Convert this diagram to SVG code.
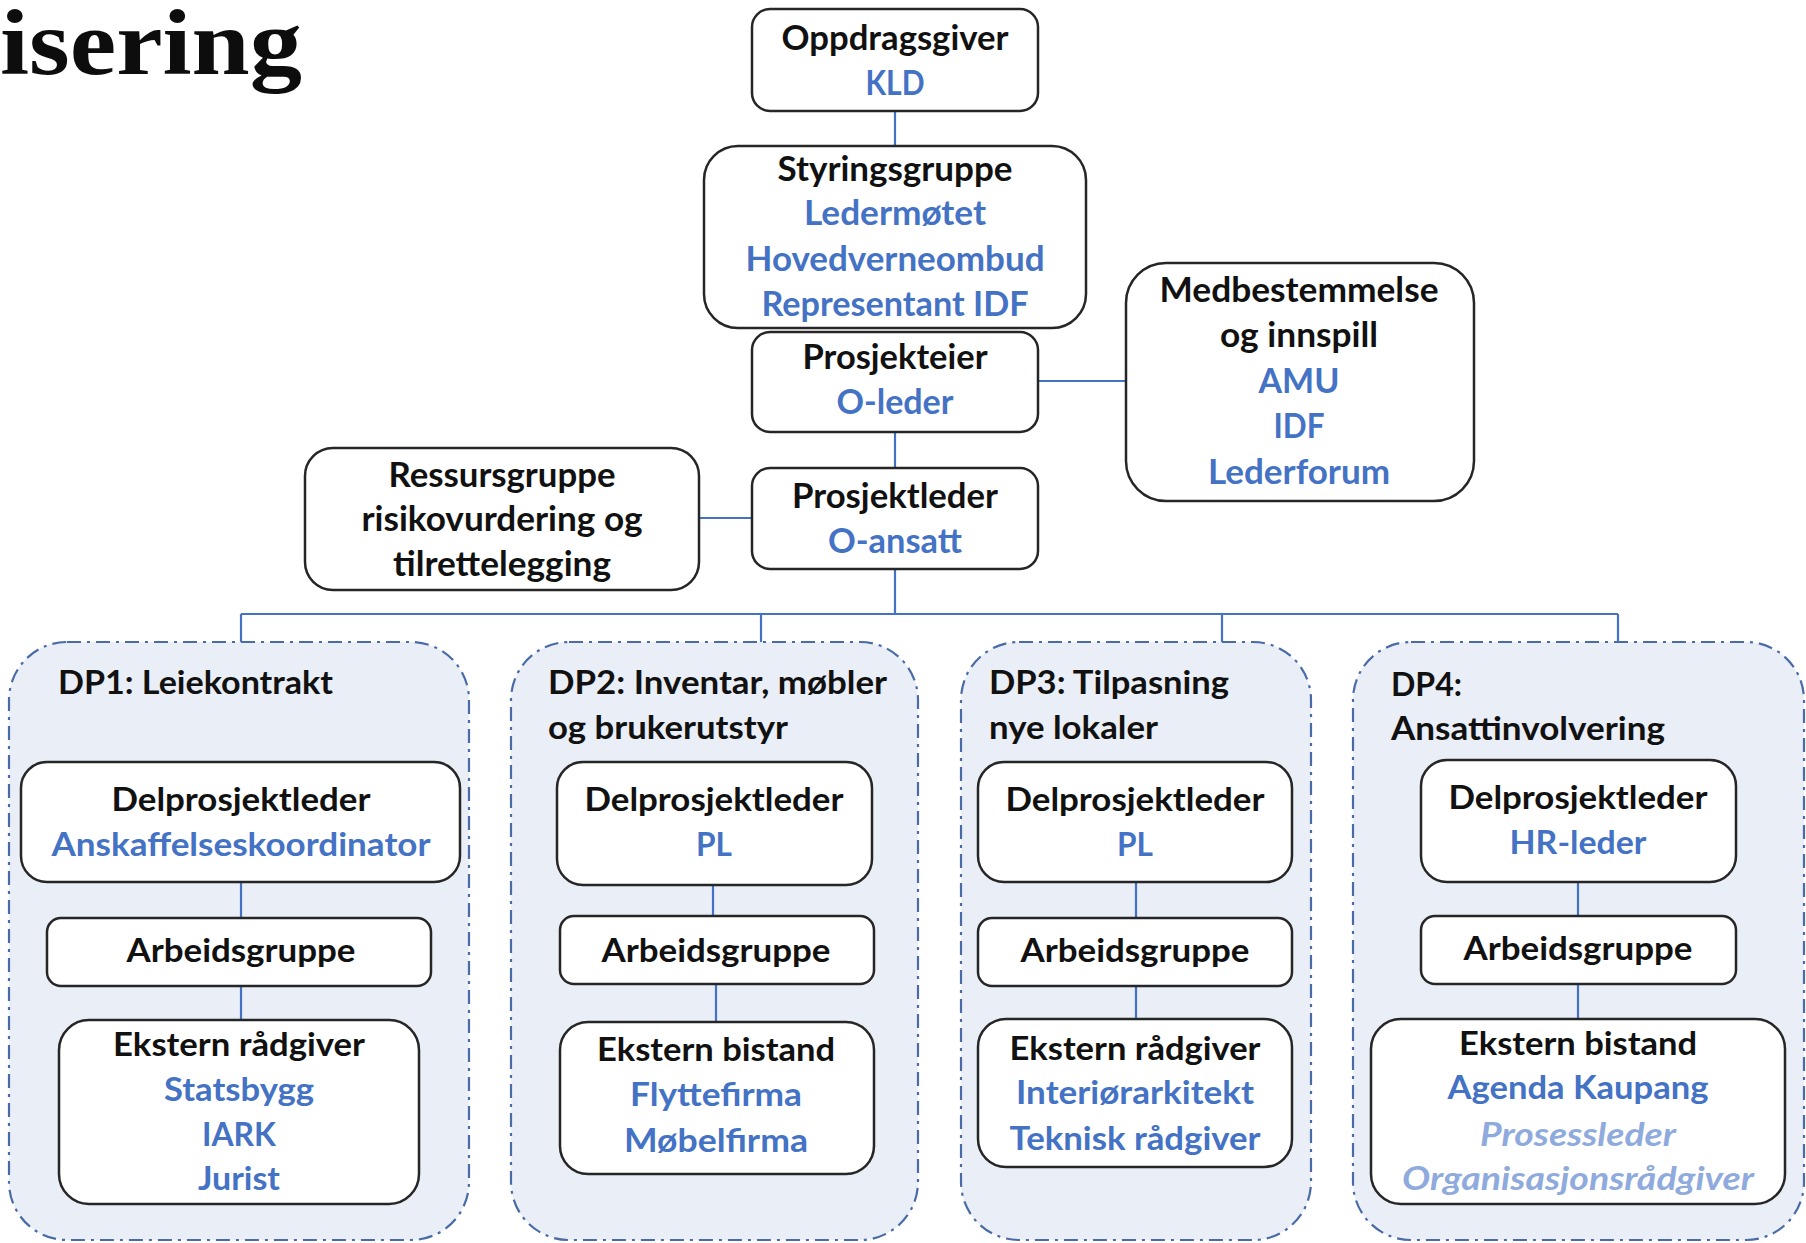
<svg xmlns="http://www.w3.org/2000/svg" width="1806" height="1243" viewBox="0 0 1806 1243">
<style>
.bg{fill:#ffffff}
.box{fill:#ffffff;stroke:#262626;stroke-width:2.5}
.dp{fill:#E9EEF7;stroke:#4A6BA6;stroke-width:2.2;stroke-dasharray:14 6 3 6}
.con{fill:none;stroke:#4472C4;stroke-width:2.2}
text{font-family:Lato,"Open Sans","Liberation Sans",sans-serif;font-weight:700;font-size:34px;text-anchor:middle}
.k{fill:#111111}
.b{fill:#4472C4}
.l{fill:#8FAADC;font-style:italic}
.s{font-size:32px}
.t{text-anchor:start}
.title{font-family:"Liberation Serif","Times New Roman",serif;font-size:94px;font-weight:700;fill:#0d0d0d;text-anchor:start}
</style>
<rect class="bg" x="0" y="0" width="1806" height="1243"/>
<text class="title" x="0" y="74" textLength="302" lengthAdjust="spacingAndGlyphs">isering</text>

<g id="dp-containers">
<rect id="dp1" class="dp" x="9" y="642" width="460" height="598" rx="58"/>
<rect id="dp2" class="dp" x="511" y="642" width="407" height="598" rx="58"/>
<rect id="dp3" class="dp" x="961" y="642" width="350" height="598" rx="58"/>
<rect id="dp4" class="dp" x="1353" y="642" width="451" height="598" rx="58"/>
</g>

<g id="connectors">
<path class="con" d="M895 111V146"/>
<path class="con" d="M895 432V468"/>
<path class="con" d="M1038 381H1126"/>
<path class="con" d="M699 518H752"/>
<path class="con" d="M895 569V614"/>
<path class="con" d="M241 614H1618"/>
<path class="con" d="M241 614V642M761 614V642M1222 614V642M1618 614V642"/>
<path class="con" d="M241 882V918M241 986V1020"/>
<path class="con" d="M713 885V916M716 984V1022"/>
<path class="con" d="M1136 882V918M1136 986V1019"/>
<path class="con" d="M1578 882V916M1578 984V1019"/>
</g>

<g id="oppdragsgiver">
<rect class="box" x="752" y="9" width="286" height="102" rx="18"/>
<text class="k" x="895" y="50" textLength="227" lengthAdjust="spacingAndGlyphs">Oppdragsgiver</text>
<text class="b" x="895" y="95" textLength="59" lengthAdjust="spacingAndGlyphs">KLD</text>
</g>

<g id="styringsgruppe">
<rect class="box" x="704" y="146" width="382" height="182" rx="34"/>
<text class="k" x="895" y="181" textLength="235" lengthAdjust="spacingAndGlyphs">Styringsgruppe</text>
<text class="b" x="895" y="225" textLength="182" lengthAdjust="spacingAndGlyphs">Ledermøtet</text>
<text class="b" x="895" y="271" textLength="299" lengthAdjust="spacingAndGlyphs">Hovedverneombud</text>
<text class="b" x="895" y="316" textLength="267" lengthAdjust="spacingAndGlyphs">Representant IDF</text>
</g>

<g id="prosjekteier">
<rect class="box" x="752" y="332" width="286" height="100" rx="18"/>
<text class="k" x="895" y="369" textLength="185" lengthAdjust="spacingAndGlyphs">Prosjekteier</text>
<text class="b" x="895" y="414" textLength="117" lengthAdjust="spacingAndGlyphs">O-leder</text>
</g>

<g id="prosjektleder">
<rect class="box" x="752" y="468" width="286" height="101" rx="18"/>
<text class="k" x="895" y="508" textLength="206" lengthAdjust="spacingAndGlyphs">Prosjektleder</text>
<text class="b" x="895" y="553" textLength="134" lengthAdjust="spacingAndGlyphs">O-ansatt</text>
</g>

<g id="medbestemmelse">
<rect class="box" x="1126" y="263" width="348" height="238" rx="40"/>
<text class="k" x="1299" y="302" textLength="279" lengthAdjust="spacingAndGlyphs">Medbestemmelse</text>
<text class="k" x="1299" y="347" textLength="158" lengthAdjust="spacingAndGlyphs">og innspill</text>
<text class="b" x="1299" y="393" textLength="81" lengthAdjust="spacingAndGlyphs">AMU</text>
<text class="b" x="1299" y="438" textLength="51" lengthAdjust="spacingAndGlyphs">IDF</text>
<text class="b" x="1299" y="484" textLength="182" lengthAdjust="spacingAndGlyphs">Lederforum</text>
</g>

<g id="ressursgruppe">
<rect class="box" x="305" y="448" width="394" height="142" rx="28"/>
<text class="k" x="502" y="487" textLength="227" lengthAdjust="spacingAndGlyphs">Ressursgruppe</text>
<text class="k" x="502" y="531" textLength="281" lengthAdjust="spacingAndGlyphs">risikovurdering og</text>
<text class="k" x="502" y="576" textLength="218" lengthAdjust="spacingAndGlyphs">tilrettelegging</text>
</g>

<g id="dp1-label">
<text class="k s t" x="58" y="694" textLength="275" lengthAdjust="spacingAndGlyphs">DP1: Leiekontrakt</text>
</g>
<g id="dp1-leder">
<rect class="box" x="21" y="762" width="439" height="120" rx="26"/>
<text class="k s" x="241" y="811" textLength="259" lengthAdjust="spacingAndGlyphs">Delprosjektleder</text>
<text class="b s" x="241" y="856" textLength="379" lengthAdjust="spacingAndGlyphs">Anskaffelseskoordinator</text>
</g>
<g id="dp1-arbeidsgruppe">
<rect class="box" x="47" y="918" width="384" height="68" rx="14"/>
<text class="k s" x="241" y="962" textLength="229" lengthAdjust="spacingAndGlyphs">Arbeidsgruppe</text>
</g>
<g id="dp1-ekstern">
<rect class="box" x="59" y="1020" width="360" height="184" rx="30"/>
<text class="k s" x="239" y="1056" textLength="252" lengthAdjust="spacingAndGlyphs">Ekstern rådgiver</text>
<text class="b s" x="239" y="1101" textLength="150" lengthAdjust="spacingAndGlyphs">Statsbygg</text>
<text class="b s" x="239" y="1146" textLength="74" lengthAdjust="spacingAndGlyphs">IARK</text>
<text class="b s" x="239" y="1190" textLength="82" lengthAdjust="spacingAndGlyphs">Jurist</text>
</g>

<g id="dp2-label">
<text class="k s t" x="548" y="694" textLength="339" lengthAdjust="spacingAndGlyphs">DP2: Inventar, møbler</text>
<text class="k s t" x="548" y="739" textLength="240" lengthAdjust="spacingAndGlyphs">og brukerutstyr</text>
</g>
<g id="dp2-leder">
<rect class="box" x="557" y="762" width="315" height="123" rx="26"/>
<text class="k s" x="714" y="811" textLength="259" lengthAdjust="spacingAndGlyphs">Delprosjektleder</text>
<text class="b s" x="714" y="856" textLength="36" lengthAdjust="spacingAndGlyphs">PL</text>
</g>
<g id="dp2-arbeidsgruppe">
<rect class="box" x="560" y="916" width="314" height="68" rx="14"/>
<text class="k s" x="716" y="962" textLength="229" lengthAdjust="spacingAndGlyphs">Arbeidsgruppe</text>
</g>
<g id="dp2-ekstern">
<rect class="box" x="560" y="1022" width="314" height="152" rx="28"/>
<text class="k s" x="716" y="1061" textLength="238" lengthAdjust="spacingAndGlyphs">Ekstern bistand</text>
<text class="b s" x="716" y="1106" textLength="172" lengthAdjust="spacingAndGlyphs">Flyttefirma</text>
<text class="b s" x="716" y="1152" textLength="184" lengthAdjust="spacingAndGlyphs">Møbelfirma</text>
</g>

<g id="dp3-label">
<text class="k s t" x="989" y="694" textLength="240" lengthAdjust="spacingAndGlyphs">DP3: Tilpasning</text>
<text class="k s t" x="989" y="739" textLength="169" lengthAdjust="spacingAndGlyphs">nye lokaler</text>
</g>
<g id="dp3-leder">
<rect class="box" x="978" y="762" width="314" height="120" rx="26"/>
<text class="k s" x="1135" y="811" textLength="259" lengthAdjust="spacingAndGlyphs">Delprosjektleder</text>
<text class="b s" x="1135" y="856" textLength="36" lengthAdjust="spacingAndGlyphs">PL</text>
</g>
<g id="dp3-arbeidsgruppe">
<rect class="box" x="978" y="918" width="314" height="68" rx="14"/>
<text class="k s" x="1135" y="962" textLength="229" lengthAdjust="spacingAndGlyphs">Arbeidsgruppe</text>
</g>
<g id="dp3-ekstern">
<rect class="box" x="978" y="1019" width="314" height="148" rx="28"/>
<text class="k s" x="1135" y="1060" textLength="251" lengthAdjust="spacingAndGlyphs">Ekstern rådgiver</text>
<text class="b s" x="1135" y="1104" textLength="238" lengthAdjust="spacingAndGlyphs">Interiørarkitekt</text>
<text class="b s" x="1135" y="1150" textLength="251" lengthAdjust="spacingAndGlyphs">Teknisk rådgiver</text>
</g>

<g id="dp4-label">
<text class="k s t" x="1391" y="696" textLength="71" lengthAdjust="spacingAndGlyphs">DP4:</text>
<text class="k s t" x="1391" y="740" textLength="274" lengthAdjust="spacingAndGlyphs">Ansattinvolvering</text>
</g>
<g id="dp4-leder">
<rect class="box" x="1421" y="760" width="315" height="122" rx="26"/>
<text class="k s" x="1578" y="809" textLength="259" lengthAdjust="spacingAndGlyphs">Delprosjektleder</text>
<text class="b s" x="1578" y="854" textLength="137" lengthAdjust="spacingAndGlyphs">HR-leder</text>
</g>
<g id="dp4-arbeidsgruppe">
<rect class="box" x="1421" y="916" width="315" height="68" rx="14"/>
<text class="k s" x="1578" y="960" textLength="229" lengthAdjust="spacingAndGlyphs">Arbeidsgruppe</text>
</g>
<g id="dp4-ekstern">
<rect class="box" x="1371" y="1019" width="414" height="185" rx="30"/>
<text class="k s" x="1578" y="1055" textLength="238" lengthAdjust="spacingAndGlyphs">Ekstern bistand</text>
<text class="b s" x="1578" y="1099" textLength="261" lengthAdjust="spacingAndGlyphs">Agenda Kaupang</text>
<text class="l s" x="1578" y="1146" textLength="196" lengthAdjust="spacingAndGlyphs">Prosessleder</text>
<text class="l s" x="1578" y="1190" textLength="352" lengthAdjust="spacingAndGlyphs">Organisasjonsrådgiver</text>
</g>
</svg>
